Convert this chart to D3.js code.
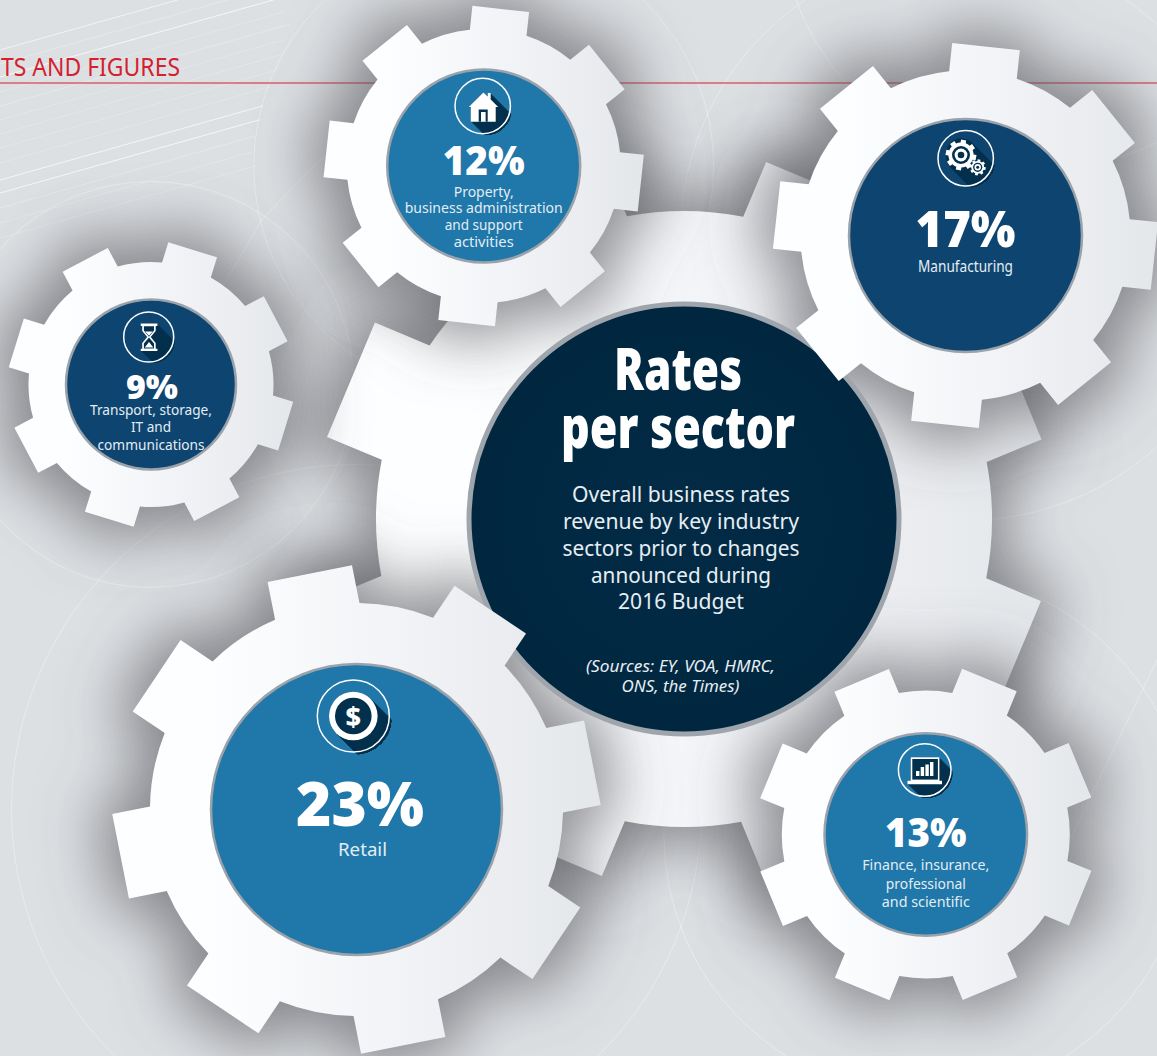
<!DOCTYPE html>
<html>
<head>
<meta charset="utf-8">
<title>Rates per sector</title>
<script src="https://cdnjs.cloudflare.com/ajax/libs/d3/7.8.5/d3.min.js"></script>
<style>
html,body{margin:0;padding:0;background:#dde0e3;overflow:hidden}
svg{display:block}
text{font-family:"Noto Sans",Lato,sans-serif}
</style>
</head>
<body>
<script>
// Business rates revenue by sector, in percent
const sectors = ["Retail", "Manufacturing", "Finance", "Property", "Transport"];
const shares = [23, 17, 13, 12, 9];
const sectorLines = [
  ["Retail"],
  ["Manufacturing"],
  ["Finance, insurance,", "professional", "and scientific"],
  ["Property,", "business administration", "and support", "activities"],
  ["Transport, storage,", "IT and", "communications"]
];
const titleLines = ["Rates", "per sector"];
const introLines = ["Overall business rates", "revenue by key industry", "sectors prior to changes", "announced during", "2016 Budget"];
const sourceLines = ["(Sources: EY, VOA, HMRC,", "ONS, the Times)"];
const sectionLabel = "TS AND FIGURES";

// Geometry of each cog, one list per property, same order as the sectors
const cogX = [356.5, 965.5, 925.8, 483.7, 151];
const cogY = [809.5, 235.5, 834.5, 166, 384.5];
const cogBody = [206.5, 165, 144, 137, 122.5];
const cogTip = [240.5, 190, 167, 158, 141];
const cogToothHalf = [43, 34, 29.5, 28.5, 25.5];
const cogPhase = [-11.2, -83.8, -67.6, -83.8, -72.8];
const hubColor = ["#2077a9", "#0e4570", "#2077a9", "#2077a9", "#0e4570"];
const iconKind = ["coin", "cogs", "laptop", "house", "hourglass"];
const iconY = [716, 158.3, 770, 106, 337];
const iconX = [353.3, 965.7, 924.7, 482.7, 148.7];
const iconR = [36, 27.7, 26.3, 27.7, 25];

// Text placement per sector: number baseline, number width, number size
const numBase = [826, 246.7, 846.7, 175, 399.3];
const numWidth = [128, 100, 81.6, 82, 52];
const numSize = [62, 49, 40, 40, 34];
const lineBase = [[856], [271.7], [870, 889, 907], [197, 213, 230, 246.7], [415, 432, 450]];
const lineWidth = [[49], [95], [127, 80, 88], [60, 158, 78, 60], [122, 40, 107]];
const lineSize = [18, 15.5, 15, 15, 15];

const W = 1157, H = 1056, deg = Math.PI / 180;
const hubRadius = d3.scaleLinear().domain([9, 12, 13, 17, 23]).range([86, 97.5, 102.3, 117.5, 146.5]);

const svg = d3.select("body").append("svg").attr("width", W).attr("height", H).attr("viewBox", [0, 0, W, H]);
const defs = svg.append("defs");

const sheen = defs.append("linearGradient").attr("id", "sheen").attr("x1", 0).attr("x2", 1).attr("y1", 0).attr("y2", 0);
[[0.2, "#fdfeff"], [0.55, "#f3f4f7"], [1, "#e4e7ea"]].forEach(([o, c]) => sheen.append("stop").attr("offset", o).attr("stop-color", c));

// Soft dark halo thrown by a cog onto whatever lies below it
const castShadow = defs.append("filter").attr("id", "cast").attr("x", "-60%").attr("y", "-60%").attr("width", "220%").attr("height", "220%");
castShadow.append("feMorphology").attr("in", "SourceAlpha").attr("operator", "dilate").attr("radius", 14).attr("result", "d");
castShadow.append("feGaussianBlur").attr("in", "d").attr("stdDeviation", 30).attr("result", "b");
castShadow.append("feFlood").attr("flood-color", "#5a5a60").attr("flood-opacity", 0.66);
castShadow.append("feComposite").attr("in2", "b").attr("operator", "in");

// Cog outline: n parallel-sided teeth on a round body
function cogPath(body, tip, half, phase, n = 8) {
  const p = d3.path(), alpha = Math.asin(half / body);
  d3.range(n).forEach(i => {
    const a = (phase + i * 360 / n) * deg, c = Math.cos(a), s = Math.sin(a);
    const start = [body * Math.cos(a - alpha), body * Math.sin(a - alpha)];
    if (i === 0) p.moveTo(...start); else p.lineTo(...start);
    p.lineTo(tip * c + half * s, tip * s - half * c);
    p.lineTo(tip * c - half * s, tip * s + half * c);
    p.arc(0, 0, body, a + alpha, a + 360 / n * deg - alpha);
  });
  p.closePath();
  return p.toString();
}

// Backdrop
svg.append("rect").attr("width", W).attr("height", H).attr("fill", "#dde0e3");
const hairline = d3.line();
const backdrop = svg.append("g").attr("fill", "none").attr("stroke", "#fff");
[[50, 220, .6], [64, 250, .25], [77, 283, .7], [92, 283, .2], [106, 290, .25], [120, 285, .2],
 [134, 282, .2], [148, 276, .2], [163, 270, .2], [180, 263, .65], [193, 260, .7], [208, 255, .25], [223, 255, .2], [238, 256, .2]]
  .forEach(([y0, x1, o]) => backdrop.append("path")
    .attr("d", hairline([[0, y0], [x1, y0 - 0.282 * x1]]))
    .attr("stroke-opacity", o).attr("stroke-width", 1));
const ghostX = [151, 483.7, 356.5, 925.8, 965.5, 1040];
const ghostY = [384.5, 166, 809.5, 834.5, 235.5, -90];
const ghostR = [203, 230, 345, 262, 285, 260];
ghostX.forEach((x, i) => backdrop.append("circle").attr("cx", x).attr("cy", ghostY[i]).attr("r", ghostR[i])
  .attr("stroke-opacity", .4).attr("stroke-width", .8));
[[[263, 218], [330, 150]], [[263, 218], [222, 288]], [[1157, 660], [1060, 860]]].forEach(l =>
  backdrop.append("path").attr("d", hairline(l)).attr("stroke-opacity", .4).attr("stroke-width", .8));

svg.append("text").text(sectionLabel).attr("x", 1).attr("y", 76).attr("font-size", 24.5)
  .attr("textLength", 179).attr("lengthAdjust", "spacingAndGlyphs").attr("fill", "#d4212e");
svg.append("line").attr("x1", 0).attr("x2", W).attr("y1", 83).attr("y2", 83).attr("stroke", "#d4212e").attr("stroke-width", 1.2);

function putText(parent, str, cx, y, width, size, fill, attrs = {}) {
  const t = parent.append("text").text(str).attr("x", cx - width / 2).attr("y", y).attr("font-size", size)
    .attr("textLength", width).attr("lengthAdjust", "spacingAndGlyphs").attr("fill", fill);
  Object.entries(attrs).forEach(([k, v]) => t.attr(k, v));
  return t;
}

// Central cog body, then every sector's shadow over it
const centreOutline = cogPath(308, 361, 62, 22.7);
const centre = svg.append("g").attr("transform", "translate(684,519)");
centre.append("path").attr("d", centreOutline).attr("filter", "url(#cast)");
centre.append("path").attr("d", centreOutline).attr("fill", "url(#sheen)");

const paintOrder = [4, 2, 0, 3, 1];
const outlineOf = i => cogPath(cogBody[i], cogTip[i], cogToothHalf[i], cogPhase[i]);
paintOrder.forEach(i => svg.append("path").attr("d", outlineOf(i))
  .attr("transform", `translate(${cogX[i]},${cogY[i]})`).attr("filter", "url(#cast)"));

// Title disc sits above the shadows, under the sector cogs' teeth
const core = defs.append("radialGradient").attr("id", "core").attr("cx", .5).attr("cy", .5).attr("r", .6);
core.append("stop").attr("offset", 0).attr("stop-color", "#032b46");
core.append("stop").attr("offset", 1).attr("stop-color", "#00263e");
svg.append("circle").attr("cx", 684).attr("cy", 519).attr("r", 215).attr("fill", "url(#core)").attr("stroke", "#9ea5ac").attr("stroke-width", 5);

const titleLayer = svg.append("g");
const titleBase = [390, 448], titleWidth = [128, 234];
titleLines.forEach((s, i) => putText(titleLayer, s, 678, titleBase[i], titleWidth[i], 58, "#fff", {"font-weight": 900}));
const introBase = [502, 529, 556, 583, 609], introWidth = [218, 236, 237, 180, 126];
introLines.forEach((s, i) => putText(titleLayer, s, 681, introBase[i], introWidth[i], 21.5, "#e6eef3"));
const srcBase = [672, 692], srcWidth = [189, 118];
sourceLines.forEach((s, i) => putText(titleLayer, s, 680.5, srcBase[i], srcWidth[i], 16, "#e6eef3", {"font-style": "italic"}));

// Glyph silhouettes, drawn in a design circle of the listed radius
const darkInk = "#03304d";
const glyphs = {
  house: {
    base: 27.7,
    outline: "M-14,1 L0.7,-13.5 L5,-9.5 L5,-13 L8,-13 L8,-6.5 L15.5,1 L13,1 L13,15.7 L-12,15.7 L-12,1 Z",
    draw(g) {
      g.append("path").attr("d", this.outline).attr("fill", "#fff");
      g.append("rect").attr("x", -4).attr("y", 3.5).attr("width", 9).attr("height", 12.2).attr("fill", darkInk);
      g.append("rect").attr("x", -1.7).attr("y", 6).attr("width", 4.6).attr("height", 9.7).attr("fill", "#fff");
    }
  },
  coin: {
    base: 36,
    outline: "M-24.3,0 A24.3,24.3 0 1,1 24.3,0 A24.3,24.3 0 1,1 -24.3,0 Z",
    draw(g) {
      g.append("circle").attr("r", 24.3).attr("fill", "#fff");
      g.append("circle").attr("r", 18.3).attr("fill", darkInk);
      g.append("text").text("$").attr("text-anchor", "middle").attr("y", 9.5).attr("font-size", 27).attr("font-weight", 800).attr("fill", "#fff");
    }
  },
  laptop: {
    base: 26.3,
    outline: "M-14,-12.7 L14.7,-12.7 L14.7,10.7 L17.3,10.7 L17.3,14.3 L-17.3,14.3 L-17.3,10.7 L-14,10.7 Z",
    draw(g) {
      g.append("path").attr("d", this.outline).attr("fill", "#fff");
      g.append("rect").attr("x", -12.4).attr("y", -11).attr("width", 25.6).attr("height", 20.6).attr("fill", darkInk);
      [[-8.7, 5], [-4, 9], [0.7, 11.5], [5.3, 14]].forEach(([x, h]) =>
        g.append("rect").attr("x", x).attr("y", 6 - h).attr("width", 3.4).attr("height", h).attr("fill", "#fff"));
    }
  },
  hourglass: {
    base: 25,
    outline: "M-8,-13.5 L8.7,-13.5 L8.7,-11 L7,-11 L7,-6 L2,0 L7,6 L7,11.7 L8.7,11.7 L8.7,14 L-8,14 L-8,11.7 L-6.5,11.7 L-6.5,6 L-1.5,0 L-6.5,-6 L-6.5,-11 L-8,-11 Z",
    draw(g) {
      g.append("path").attr("d", this.outline).attr("fill", "#fff");
      g.append("path").attr("d", "M-4.8,-10.8 L5.3,-10.8 L5.3,-6.6 L0.3,-0.2 L-4.8,-6.6 Z M-4.8,11.6 L5.3,11.6 L5.3,6.6 L0.3,0.4 L-4.8,6.6 Z").attr("fill", darkInk);
      g.append("path").attr("d", "M-3.6,-5.4 L4.1,-5.4 L0.3,-1.2 Z M0.3,5 L4.6,10.4 L-4,10.4 Z").attr("fill", "#fff");
    }
  },
  cogs: {
    base: 27.7,
    outline: "M-19.5,-3.3 A15,15 0 1,1 10.3,-3.3 A15,15 0 1,1 -19.5,-3.3 Z M4,9 A8,8 0 1,1 20,9 A8,8 0 1,1 4,9 Z",
    draw(g) {
      const wheel = (x, y, b, t, w, rings) => {
        const o = g.append("g").attr("transform", `translate(${x},${y})`);
        o.append("path").attr("d", cogPath(b, t, w, 10)).attr("fill", "#fff");
        rings.forEach(([r, c]) => o.append("circle").attr("r", r).attr("fill", c));
      };
      wheel(-4.7, -3.3, 12.6, 15.3, 2.6, [[9, darkInk], [6.4, "#fff"], [3.3, darkInk]]);
      wheel(12, 9, 6.4, 8, 1.4, [[4.6, darkInk], [3.2, "#fff"], [1.5, darkInk]]);
    }
  }
};

function addIcon(parent, kind, cx, cy, r, idx) {
  const glyph = glyphs[kind], k = r / glyph.base;
  const g = parent.append("g").attr("transform", `translate(${cx},${cy})`);
  const clipId = `icon-clip-${idx}`;
  defs.append("clipPath").attr("id", clipId).append("circle").attr("cx", r * .06).attr("cy", r * .06).attr("r", r);
  const tail = g.append("g").attr("clip-path", `url(#${clipId})`).append("g").attr("transform", `scale(${k})`);
  d3.range(0, glyph.base * 1.6, 1).forEach(t =>
    tail.append("path").attr("d", glyph.outline).attr("transform", `translate(${t},${t})`).attr("fill", darkInk));
  glyph.draw(g.append("g").attr("transform", `scale(${k})`));
  g.append("circle").attr("r", r).attr("fill", "none").attr("stroke", "#fff").attr("stroke-width", 1.5);
}

// Sector cogs with their discs, icons and labels
paintOrder.forEach(i => {
  const g = svg.append("g").attr("transform", `translate(${cogX[i]},${cogY[i]})`);
  g.append("path").attr("d", outlineOf(i)).attr("fill", "url(#sheen)");
  g.append("circle").attr("r", hubRadius(shares[i]) - 1).attr("fill", hubColor[i]).attr("stroke", "#9aa3ab").attr("stroke-width", 2.5);

  addIcon(svg, iconKind[i], iconX[i], iconY[i], iconR[i], i);

  const cx = cogX[i] + (i === 0 ? 3.5 : 0);
  putText(svg, `${shares[i]}%`, cx - (i === 4 ? -1 : 0), numBase[i], numWidth[i], numSize[i], "#fff", {"font-weight": 900});
  sectorLines[i].forEach((s, j) =>
    putText(svg, s, i === 0 ? 362.5 : cogX[i], lineBase[i][j], lineWidth[i][j], lineSize[i], "#e3edf4"));
});
</script>
</body>
</html>
